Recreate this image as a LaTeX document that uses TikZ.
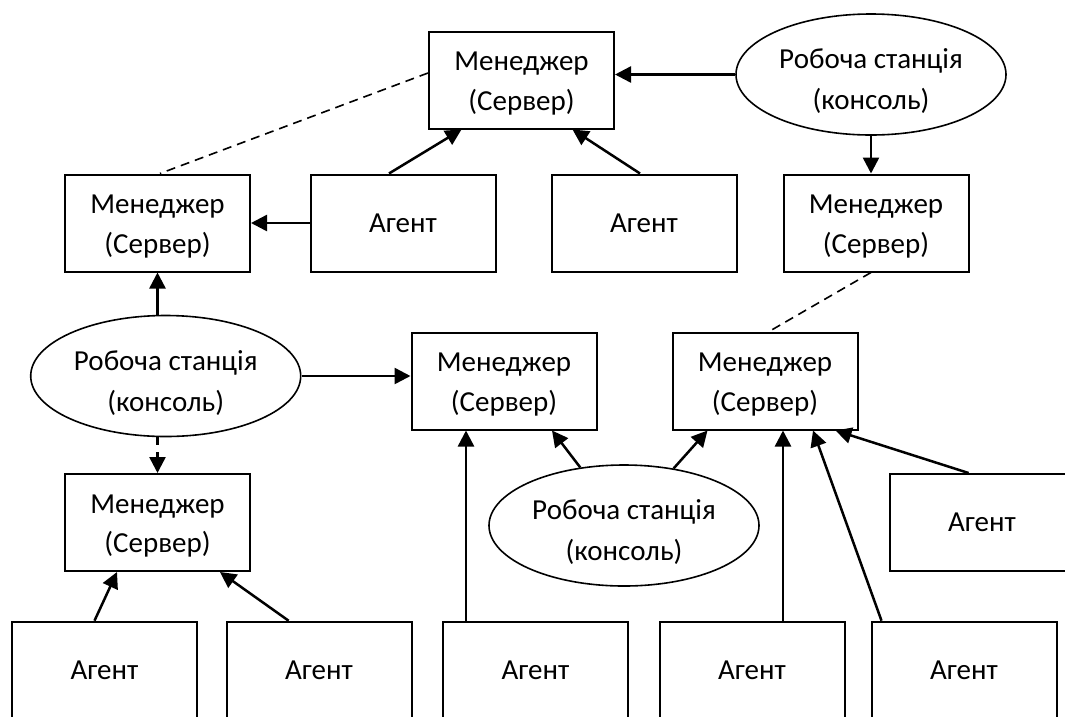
\documentclass[tikz,border=0pt]{standalone}
\usepackage{fontspec}
\setmainfont{Carlito}
\usetikzlibrary{arrows.meta,shapes.geometric}
\begin{document}
\begin{tikzpicture}[x=1pt,y=-1pt,
  every node/.style={font=\fontsize{29}{39.5}\selectfont, align=center},
  box/.style={draw, line width=2pt, rectangle, minimum width=185pt, minimum height=97pt, inner sep=0pt},
  boxlabel/.style={label={[yshift=-3.5pt, font=\fontsize{29}{39.5}\selectfont, align=center]center:#1}},
  wsell/.style={draw, line width=1.6pt, ellipse, minimum width=270pt, minimum height=121pt, inner sep=0pt},
  ellabel/.style={label={[yshift=-7pt, font=\fontsize{29}{41}\selectfont, align=center]center:#1}},
  link/.style={line width=2.5pt, -{Triangle[length=16pt, width=16pt]}},
  weak/.style={line width=1.6pt, dash pattern=on 9pt off 6pt},
  weaklink/.style={line width=2.5pt, dash pattern=on 8pt off 7pt, -{Triangle[length=16pt, width=16pt]}}]
\useasboundingbox (0,0) rectangle (1065,716);
\clip (0,0) rectangle (1065,716);

% top level
\node[box, boxlabel={Менеджер\\(Сервер)}] (T) at (521.5,80) {};
\node[wsell, ellabel={Робоча станція\\(консоль)}] (E0) at (871,74.5) {};

% second row
\node[box, boxlabel={Менеджер\\(Сервер)}] (L1) at (157.5,223) {};
\node[box] (A1) at (403,223) {Агент};
\node[box] (A2) at (644,223) {Агент};
\node[box, boxlabel={Менеджер\\(Сервер)}] (R1) at (876,223) {};

% third row
\node[wsell, ellabel={Робоча станція\\(консоль)}] (E1) at (165.7,376) {};
\node[box, boxlabel={Менеджер\\(Сервер)}] (M1) at (504,381) {};
\node[box, boxlabel={Менеджер\\(Сервер)}] (M2) at (765,381) {};

% fourth row
\node[box, boxlabel={Менеджер\\(Сервер)}] (L2) at (157.5,522.5) {};
\node[wsell, ellabel={Робоча станція\\(консоль)}] (E2) at (624,525.5) {};
\node[box] (A8) at (982,522.5) {Агент};

% bottom row of agents
\node[box] (A3) at (104.5,670.2) {Агент};
\node[box] (A4) at (319,670.2) {Агент};
\node[box] (A5) at (535.5,670.2) {Агент};
\node[box] (A6) at (752,670.2) {Агент};
\node[box] (A7) at (964,670.2) {Агент};

% connectors
\draw[link] (E0.west) -- (T.east |- E0.west);
\draw[link] ([xshift=-14pt]A1.north) -- ([xshift=-60pt]T.south);
\draw[link] ([xshift=-4pt]A2.north) -- ([xshift=51pt]T.south);
\draw[link] (A1.west) -- (L1.east);
\draw[weak] ([yshift=7pt]T.west) -- ([xshift=2.5pt]L1.north);
\draw[link] (E0.south) -- (E0.south |- R1.north);
\draw[weak] ([xshift=-5pt]R1.south) -- ([xshift=4pt]M2.north);

\draw[link] (E1.north -| L1.south) -- (L1.south);
\draw[link] (E1.east) -- ([yshift=5pt]M1.west);
\draw[weaklink] (E1.south -| L2.north) -- (L2.north);

\draw[link] ([xshift=-10pt]A3.north) -- ([xshift=-40.5pt]L2.south);
\draw[link] ([xshift=-30.4pt]A4.north) -- ([xshift=62.5pt]L2.south);
\draw[link] ([xshift=-38pt]M1.south |- A5.north) -- ([xshift=-38pt]M1.south);

\draw[link] (E2.127) -- ([xshift=48pt]M1.south);
\draw[link] (E2.49) -- ([xshift=-57.5pt]M2.south);
\draw[link] ([xshift=18pt]M2.south |- A6.north) -- ([xshift=18pt]M2.south);
\draw[link] ([xshift=-82.5pt]A7.north) -- ([xshift=48pt]M2.south);
\draw[link] ([xshift=-13.4pt]A8.north) -- ([xshift=70.5pt]M2.south);
\end{tikzpicture}
\end{document}
